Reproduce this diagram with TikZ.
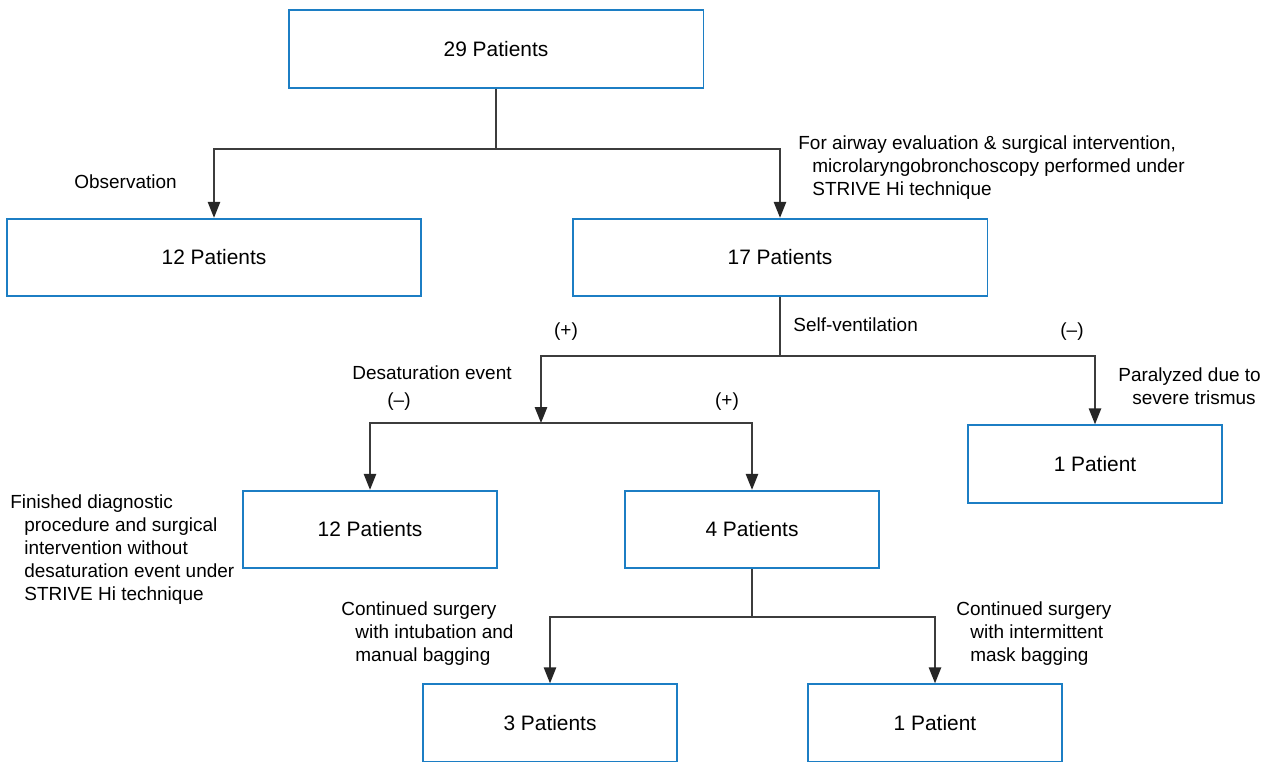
\documentclass[tikz,border=0pt]{standalone}
\usepackage{fontspec}
\setmainfont{Liberation Sans}
\usetikzlibrary{arrows.meta}
\definecolor{boxblue}{RGB}{28,126,196}
\definecolor{linegray}{RGB}{60,60,60}
\newcommand{\lblind}{\hspace*{0.28cm}}

\begin{document}
\begin{tikzpicture}[x=0.02cm, y=-0.02cm]
        % Define styles
        \tikzset{
            widebox/.style={rectangle, draw=boxblue, line width=1.1pt, minimum width=8.3cm, minimum height=1.55cm, font=\fontsize{11.9}{14}\selectfont},
            smallbox/.style={rectangle, draw=boxblue, line width=1.1pt, minimum width=5.08cm, minimum height=1.55cm, font=\fontsize{11.9}{14}\selectfont},
            lbl/.style={inner sep=0pt, align=left, font=\fontsize{10.8}{13.2}\selectfont},
            arrow/.style={-{Triangle[length=9pt, width=7pt, color=black!85]}, draw=linegray, line width=0.8pt},
            link/.style={draw=linegray, line width=0.8pt}
        }
        \useasboundingbox (0,0) rectangle (1267,761);

        % Nodes
        \node[widebox] (total) at (496,49) {29 Patients};
        \node[widebox] (observed) at (214,257.5) {12 Patients};
        \node[widebox] (scoped) at (780,257.5) {17 Patients};
        \node[smallbox] (paralyzed) at (1095,464) {1 Patient};
        \node[smallbox] (nodesat) at (370,529.5) {12 Patients};
        \node[smallbox] (desat) at (752,529.5) {4 Patients};
        \node[smallbox] (intubated) at (550,723) {3 Patients};
        \node[smallbox] (masked) at (935,723) {1 Patient};

        % Labels
        \node[lbl, anchor=west] (obs_lbl) at (74,182) {Observation};
        \node[lbl, anchor=north west] (air_lbl) at (798,135) {For airway evaluation \& surgical intervention,\\\lblind microlaryngobronchoscopy performed under\\\lblind STRIVE Hi technique};
        \node[lbl, anchor=west] (self_lbl) at (793,325) {Self-ventilation};
        \node[lbl] (neg_lbl_1) at (1072,332) {(--)};
        \node[lbl, anchor=north west] (para_lbl) at (1118,367) {Paralyzed due to\\\lblind severe trismus};
        \node[lbl] (pos_lbl_1) at (566,332) {(+)};
        \node[lbl, anchor=west] (sat_lbl) at (352,373) {Desaturation event};
        \node[lbl] (neg_lbl_2) at (399,402) {(--)};
        \node[lbl] (pos_lbl_2) at (727,402) {(+)};
        \node[lbl, anchor=north west] (fin_lbl) at (10,494) {Finished diagnostic\\\lblind procedure and surgical\\\lblind intervention without\\\lblind desaturation event under\\\lblind STRIVE Hi technique};
        \node[lbl, anchor=north west] (int_lbl) at (341,601) {Continued surgery\\\lblind with intubation and\\\lblind manual bagging};
        \node[lbl, anchor=north west] (mask_lbl) at (956,601) {Continued surgery\\\lblind with intermittent\\\lblind mask bagging};

        % Split points
        \coordinate (split_1) at (496,149);
        \coordinate (split_2) at (780,356);
        \coordinate (split_3) at (541,423);
        \coordinate (split_4) at (752,617);

        % Arrows
        \draw[link] (total) -- (split_1);
        \draw[arrow] (split_1) -| (observed.north);
        \draw[arrow] (split_1) -| (scoped.north);
        \draw[link] (scoped) -- (split_2);
        \draw[arrow] (split_2) -| (paralyzed.north);
        \draw[arrow] (split_2) -| (split_3);
        \draw[arrow] (split_3) -| (nodesat.north);
        \draw[arrow] (split_3) -| (desat.north);
        \draw[link] (desat) -- (split_4);
        \draw[arrow] (split_4) -| (intubated.north);
        \draw[arrow] (split_4) -| (masked.north);
    \end{tikzpicture}
\end{document}
